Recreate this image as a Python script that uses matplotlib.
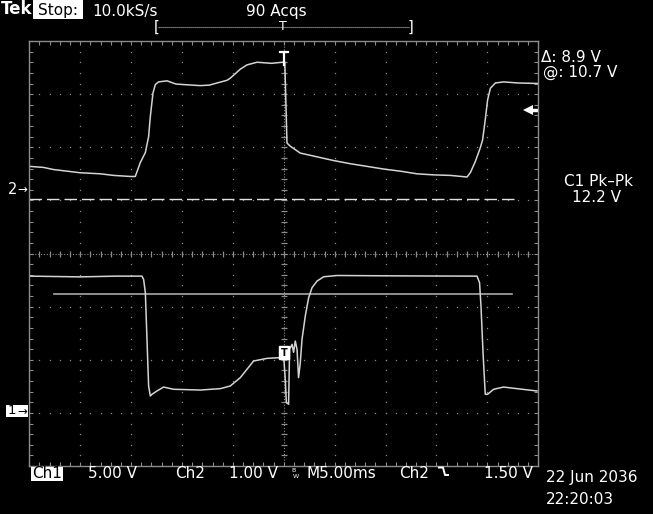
import numpy as np
import matplotlib
matplotlib.use("Agg")
import matplotlib.pyplot as plt
from matplotlib.lines import Line2D
from matplotlib.patches import Rectangle

# ---------------- data (read from the screen) ----------------
# time in ms relative to trigger, voltage in V
ch2_t = [-24.97, -23.59, -22.61, -21.3, -19.99, -18.02, -16.72, -15.08, -14.59,
         -14.10, -13.6, -13.28, -13.11, -12.85, -12.62, -12.30, -11.47, -10.6,
         -9.84, -8.2, -7.3, -6.56, -5.58, -5.26, -4.27, -3.62, -2.63, -1.2, -0.15,
         0.10, 0.31, 0.64, 1.62, 3.26, 4.89, 6.53, 8.17, 9.80, 11.44, 13.08,
         14.72, 16.36, 18.0, 18.32, 18.81, 19.3, 19.53, 19.79, 20.02, 20.29,
         20.78, 21.59, 23.0, 25.03]
ch2_v = [0.44, 0.42, 0.38, 0.35, 0.32, 0.30, 0.27, 0.25, 0.25,
         0.51, 0.70, 1.00, 1.38, 1.82, 1.98, 2.03, 2.05, 1.99,
         1.98, 1.96, 1.97, 2.01, 2.06, 2.10, 2.27, 2.35, 2.40, 2.38, 2.40,
         2.40, 0.88, 0.82, 0.69, 0.62, 0.55, 0.49, 0.44, 0.39, 0.35, 0.30,
         0.28, 0.27, 0.24, 0.32, 0.53, 0.79, 0.94, 1.32, 1.69, 1.91,
         2.01, 2.03, 2.01, 2.00]

ch1_t = [-24.97, -20.0, -16.5, -13.93, -13.77, -13.6, -13.44, -13.28, -13.11,
         -12.95, -12.46, -11.81, -10.83, -8.2, -6.24, -5.26, -4.27, -2.97, -1.65,
         -0.34, 0.0, 0.15, 0.25, 0.47, 0.57, 0.81, 0.96, 1.13, 1.30, 1.45, 1.62,
         1.79, 2.11, 2.44, 2.77, 3.26, 3.91, 5.23, 10.0, 15.0, 18.98, 19.23,
         19.37, 19.57, 19.79, 20.02, 20.61, 21.59, 22.90, 24.87]
ch1_v = [12.37, 12.30, 12.37, 12.37, 12.06, 10.81, 6.42, 2.03, 1.09,
         1.25, 1.56, 1.93, 1.72, 1.65, 1.78, 2.03, 2.82, 4.38, 4.63,
         4.70, 4.70, 2.55, 0.47, 0.31, 5.48, 5.95, 5.20, 6.26, 5.48, 2.82, 4.23,
         6.42, 8.61, 10.34, 11.28, 11.90, 12.31, 12.43, 12.40, 12.38, 12.37, 11.75,
         9.55, 5.17, 1.25, 1.25, 1.72, 1.93, 1.78, 1.56]

ch1_scale, ch2_scale = 5.0, 1.0      # V/div
ch1_offset, ch2_offset = -2.9, 1.2   # ground position, divisions
cursor_at, cursor_delta = 10.7, 8.9  # V (Ch1)
trig_level = 1.50                    # V (Ch2)

# ---------------- figure ----------------
W, H = 653, 514
fig = plt.figure(figsize=(W / 100, H / 100), dpi=100, facecolor="black")
L, R, T, B = 29.3, 538.3, 41, 466
ax = fig.add_axes([L / W, 1 - B / H, (R - L) / W, (B - T) / H], facecolor="black")
ax.set_xlim(-25, 25)
ax.set_ylim(-4, 4)

grat = "#8c8c8c"
trace = "#d4d4d4"
for s in ax.spines.values():
    s.set_color(grat)
    s.set_linewidth(1.0)
ax.set_xticks(np.arange(-25, 25.01, 5))
ax.set_yticks(np.arange(-4, 4.01, 1))
ax.set_xticks(np.arange(-25, 25.01, 1), minor=True)
ax.set_yticks(np.arange(-4, 4.01, 0.2), minor=True)
ax.tick_params(which="both", direction="in", top=True, right=True, bottom=True, left=True,
               labelbottom=False, labelleft=False, color=grat, length=3, width=0.8)

# dotted graticule
for xv in np.arange(-20, 20.01, 5):
    if abs(xv) < 1e-9:
        continue
    yy = np.arange(-3.8, 3.81, 0.2)
    ax.plot(np.full_like(yy, xv), yy, ls="none", marker="s", ms=0.9, color=grat, mew=0)
for yv in np.arange(-3, 3.01, 1):
    if abs(yv) < 1e-9:
        continue
    xx = np.arange(-24, 24.01, 1)
    ax.plot(xx, np.full_like(xx, yv), ls="none", marker="s", ms=0.9, color=grat, mew=0)
# centre cross
ax.axhline(0, color=grat, lw=0.8, ls=(0, (1, 1.6)))
ax.axvline(0, color=grat, lw=0.8, ls=(0, (1, 1.6)))
xx = np.arange(-24, 24.01, 1)
ax.plot(xx, np.zeros_like(xx), ls="none", marker="|", ms=4.5, mew=0.9, color=grat)
yy = np.arange(-3.8, 3.81, 0.2)
ax.plot(np.zeros_like(yy), yy, ls="none", marker="_", ms=4.5, mew=0.9, color=grat)

# cursors
top_div = (cursor_at + cursor_delta) / ch1_scale + ch1_offset
bot_div = cursor_at / ch1_scale + ch1_offset
ax.plot([-25, 23.0], [top_div, top_div], color="#e0e0e0", lw=1.0, dashes=(9, 3.6))
ax.plot([-22.55, 22.44], [bot_div, bot_div], color="#a8a8a8", lw=1.2)

# traces
ax.plot(ch2_t, np.array(ch2_v) / ch2_scale + ch2_offset, color=trace, lw=1.1)
ax.plot(ch1_t, np.array(ch1_v) / ch1_scale + ch1_offset, color=trace, lw=1.1)

# trigger position markers
ax.plot([0, 0], [3.80, 3.55], color="white", lw=1.6, clip_on=False)
ax.plot([-0.4, 0.4], [3.80, 3.80], color="white", lw=1.6, clip_on=False)
ax.text(0, -1.87, "T", color="black", ha="center", va="center", fontsize=7,
        fontweight="bold", bbox=dict(boxstyle="square,pad=0.15", fc="white", ec="white"))
# trigger level arrow (right)
tl = trig_level / ch2_scale + ch2_offset
ax.plot([24.0], [tl], marker="<", ms=6.5, color="white", mew=0, clip_on=False)
ax.plot([24.3, 25.0], [tl, tl], color="white", lw=2.5, clip_on=False, solid_capstyle="butt")


# ---------------- text ----------------
def px(x, y):
    return x / W, 1 - y / H


fs = 11
def put(x, y, s, ha="center", color="white", size=fs, **kw):
    fig.text(*px(x, y), s, color=color, ha=ha, va="center", fontsize=size,
             family="DejaVu Sans", **kw)


put(17, 8.5, "Tek", size=12, fontweight="bold")
fig.patches.append(Rectangle(px(32.7, 19), 50.6 / W, 19 / H, transform=fig.transFigure,
                             fc="white", ec="none"))
put(58, 10.5, "Stop:", color="black")
put(125, 11.5, "10.0kS/s")
put(276, 11.5, "90 Acqs")
# record bracket
fig.lines.append(Line2D([158 / W, 409 / W], [1 - 27 / H] * 2, transform=fig.transFigure,
                        color="#bbbbbb", lw=0.8, ls=(0, (1, 0.8))))
put(157, 27.5, "[", size=10.5)
put(410, 27.5, "]", size=10.5)
put(283, 27, "T", size=9)

put(541, 57, "\u0394: 8.9 V", ha="left")
put(543, 72, "@: 10.7 V", ha="left")
put(598, 181, "C1 Pk\u2013Pk")
put(597, 197.5, "12.2 V")

put(12.5, 189, "2", size=10.5)
put(22, 189, "\u2192", size=8.5)
fig.patches.append(Rectangle(px(6, 417), 22 / W, 12 / H, transform=fig.transFigure,
                             fc="white", ec="none"))
put(12, 411, "1", color="black", size=9.5)
put(22, 411, "\u2192", color="black", size=8.5)

yb = 474
fig.patches.append(Rectangle(px(31, 481), 32 / W, 14 / H, transform=fig.transFigure,
                             fc="white", ec="none"))
put(47, yb, "Ch1", color="black")
put(112, yb, "5.00 V")
put(190.5, yb, "Ch2")
put(253.5, yb, "1.00 V")
put(293.5, 471, "B", size=4.5)
put(296, 477, "W", size=4.5)
put(341, yb, "M5.00ms")
put(414, yb, "Ch2")
fig.lines.append(Line2D([439 / W, 443 / W, 445 / W, 448 / W],
                        [1 - 467.5 / H, 1 - 467.5 / H, 1 - 475 / H, 1 - 475 / H],
                        transform=fig.transFigure, color="white", lw=1.4))
put(508, yb, "1.50 V")
put(546, 477.5, "22 Jun 2036", ha="left", size=11)
put(546, 499, "22:20:03", ha="left", size=11)

fig.savefig("out.png", dpi=100, facecolor="black")
